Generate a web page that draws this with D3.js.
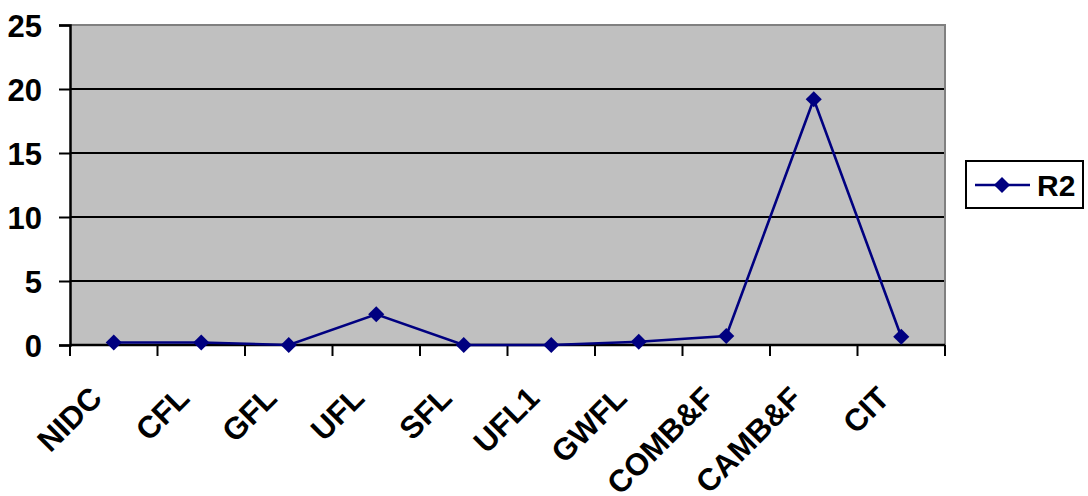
<!DOCTYPE html>
<html>
<head>
<meta charset="utf-8">
<script src="https://cdn.jsdelivr.net/npm/d3@7"></script>
<style>
  html, body { margin: 0; padding: 0; background: #ffffff; }
  svg text { font-family: Arial, "Liberation Sans", sans-serif; font-weight: bold; fill: #000; }
</style>
</head>
<body>
<svg id="chart" width="1088" height="496"></svg>
<script>
// Series data
const categories = ["NIDC", "CFL", "GFL", "UFL", "SFL", "UFL1", "GWFL", "COMB&F", "CAMB&F", "CIT"];
const r2Values = [0.2, 0.2, 0.0, 2.4, 0.0, 0.0, 0.25, 0.7, 19.2, 0.65];
const yTicks = [0, 5, 10, 15, 20, 25];
const seriesName = "R2";

const svg = d3.select("#chart");
const plot = { left: 70, right: 945, top: 25, bottom: 345 };

const x = d3.scaleBand().domain(categories).range([plot.left, plot.right]).padding(0);
const y = d3.scaleLinear().domain([0, 25]).range([plot.bottom, plot.top]);

// Plot background
svg.append("rect")
  .attr("x", plot.left).attr("y", plot.top)
  .attr("width", plot.right - plot.left).attr("height", plot.bottom - plot.top)
  .attr("fill", "#c0c0c0");

// Horizontal gridlines
svg.append("g").selectAll("line")
  .data(yTicks.filter(d => d > 0 && d < 25))
  .join("line")
  .attr("x1", plot.left).attr("x2", plot.right)
  .attr("y1", d => y(d)).attr("y2", d => y(d))
  .attr("stroke", "#000").attr("stroke-width", 2);

// Gray frame on top and right
svg.append("path")
  .attr("d", `M${plot.left},${plot.top}H${plot.right}V${plot.bottom}`)
  .attr("fill", "none").attr("stroke", "#808080").attr("stroke-width", 2);

// Y axis
const yAxis = d3.axisLeft(y).tickValues(yTicks).tickSize(11).tickPadding(17);
const gy = svg.append("g").attr("transform", `translate(${plot.left},0)`).call(yAxis);
gy.select(".domain").attr("stroke", "#000").attr("stroke-width", 2.5);
gy.selectAll(".tick line").attr("stroke", "#000").attr("stroke-width", 2);
gy.selectAll(".tick text")
  .style("font-size", "31px").style("font-weight", "bold")
  .attr("fill", "#000").attr("dy", "0.36em");

// X axis (ticks on category boundaries)
const xAxisLine = svg.append("g");
xAxisLine.append("line")
  .attr("x1", plot.left).attr("x2", plot.right)
  .attr("y1", plot.bottom).attr("y2", plot.bottom)
  .attr("stroke", "#000").attr("stroke-width", 2.5);
const boundaries = categories.map(c => x(c)).concat([plot.right]);
xAxisLine.selectAll("line.tick")
  .data(boundaries)
  .join("line").attr("class", "tick")
  .attr("x1", d => d).attr("x2", d => d)
  .attr("y1", plot.bottom).attr("y2", plot.bottom + 11)
  .attr("stroke", "#000").attr("stroke-width", 2);

// Rotated category labels
svg.append("g").selectAll("text")
  .data(categories)
  .join("text")
  .attr("text-anchor", "end")
  .attr("transform", d => `translate(${x(d) + x.bandwidth() / 2 - 10},${plot.bottom + 55}) rotate(-45)`)
  .style("font-size", "31px")
  .text(d => d);

// Line series
const cx = d => x(d) + x.bandwidth() / 2;
const line = d3.line().x((d, i) => cx(categories[i])).y(d => y(d));
svg.append("path")
  .datum(r2Values)
  .attr("d", line)
  .attr("fill", "none").attr("stroke", "#000080").attr("stroke-width", 2.6);

const diamond = d3.symbol().type(d3.symbolDiamond2).size(165);
svg.append("g").selectAll("path")
  .data(r2Values)
  .join("path")
  .attr("d", diamond)
  .attr("transform", (d, i) => `translate(${cx(categories[i])},${y(d)})`)
  .attr("fill", "#000080");

// Legend
const lg = svg.append("g");
lg.append("rect")
  .attr("x", 966).attr("y", 161).attr("width", 117).attr("height", 47)
  .attr("fill", "#fff").attr("stroke", "#000").attr("stroke-width", 2);
lg.append("line")
  .attr("x1", 975).attr("x2", 1030).attr("y1", 185).attr("y2", 185)
  .attr("stroke", "#000080").attr("stroke-width", 2.6);
lg.append("path")
  .attr("d", diamond)
  .attr("transform", "translate(1002,185)")
  .attr("fill", "#000080");
lg.append("text")
  .attr("x", 1037).attr("y", 196)
  .style("font-size", "30px")
  .text(seriesName);
</script>
</body>
</html>
